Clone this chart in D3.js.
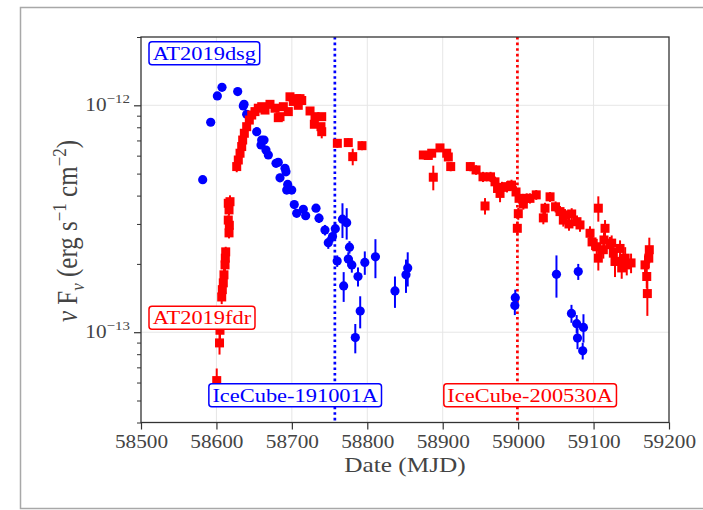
<!DOCTYPE html>
<html>
<head>
<meta charset="utf-8">
<script src="https://cdn.jsdelivr.net/npm/d3@7/dist/d3.min.js"></script>
<style>
  body { margin: 0; background: #fff; }
  svg { display: block; }
  text { font-family: "Liberation Serif", "DejaVu Serif", serif; }
</style>
</head>
<body>
<script>
// ---- data (flux in units of 1e-13 erg s^-1 cm^-2) ----
var sourceNames = ["AT2019dsg", "AT2019fdr"];
var eventNames = ["IceCube-191001A", "IceCube-200530A"];
var eventMjd = [58757, 58999];

var dsgMjd = [58581.8, 58592.4, 58601.2, 58607.4, 58628.2, 58635.6, 58636.6, 58640.1, 58653.4, 58660.0,
    58663.1, 58659.1, 58665.7, 58668.8, 58679.0, 58682.0, 58690.9, 58692.2, 58684.3, 58694.5,
    58693.2, 58699.8, 58703.2, 58706.4, 58715.2, 58718.3, 58732.0, 58736.0, 58743.9, 58748.3,
    58753.9, 58757.6, 58760.1, 58767.1, 58772.7, 58768.7, 58776.4, 58774.8, 58779.5, 58787.7,
    58790.6, 58784.1, 58796.7, 58810.8, 58836.7, 58851.3, 58853.6, 58996.2, 58995.6, 59050.8,
    59079.7, 59070.7, 59077.6, 59078.7, 59086.6, 59085.6];
var dsgFlux = [4.70, 8.42, 11.0, 12.0, 11.5, 9.93, 10.1, 9.13, 7.65, 7.03,
    7.03, 6.69, 6.35, 6.04, 5.55, 5.61, 5.28, 5.09, 4.79, 4.48,
    4.23, 4.23, 3.65, 3.34, 3.48, 3.26, 3.52, 3.18, 2.82, 2.48,
    2.64, 2.86, 2.06, 3.15, 3.04, 1.60, 2.37, 2.10, 1.98, 1.76,
    1.24, 0.947, 2.03, 2.15, 1.52, 1.79, 1.92, 1.42, 1.31, 1.80,
    1.85, 1.21, 1.09, 0.942, 1.05, 0.828];
var dsgErr = [0.15, 0.25, 0.3, 0.3, 0.3, 0.3, 0.3, 0.3, 0.25, 0.25,
    0.25, 0.2, 0.2, 0.2, 0.2, 0.2, 0.2, 0.2, 0.2, 0.2,
    0.15, 0.15, 0.12, 0.12, 0.12, 0.12, 0.12, 0.15, 0.15, 0.15,
    0.15, 0.2, 0.12, 0.55, 0.48, 0.24, 0.15, 0.15, 0.15, 0.17,
    0.2, 0.14, 0.24, 0.42, 0.24, 0.3, 0.33, 0.12, 0.12, 0.38,
    0.15, 0.11, 0.1, 0.1, 0.15, 0.07];

var fdrMjd = [58600.4, 58604.1, 58604.7, 58607.0, 58607.8, 58609.1, 58610.0, 58611.4, 58611.8, 58612.3,
    58616.7, 58617.1, 58615.7, 58616.7, 58615.7, 58618.0, 58626.9, 58629.0, 58631.3, 58633.5,
    58634.8, 58637.0, 58640.1, 58643.6, 58646.8, 58651.1, 58655.5, 58660.0, 58664.4, 58671.0,
    58677.7, 58682.0, 58684.3, 58688.7, 58695.3, 58697.5, 58701.9, 58706.4, 58710.8, 58708.5,
    58713.1, 58724.1, 58729.8, 58730.7, 58739.6, 58738.6, 58739.6, 58760.3, 58774.8, 58780.7,
    58793.0,
    58874.3, 58880.9, 58885.4, 58887.5, 58896.4, 58905.3, 58907.4, 58910.6, 58936.6, 58944.2,
    58953.4, 58956.1, 58963.4, 58969.3, 58972.7, 58976.0, 58978.6, 58985.2, 58991.2, 58997.2,
    59001.2, 59006.9, 59000.2, 58998.9, 59011.4, 59015.7, 59024.0, 59035.6, 59033.4, 59042.3,
    59049.6, 59055.5, 59059.9, 59062.1, 59071.0, 59067.4, 59078.0, 59082.0, 59095.3, 59098.0,
    59106.3, 59104.2, 59106.3, 59112.9, 59115.2, 59113.8, 59121.8, 59126.2, 59135.1, 59124.0,
    59128.4, 59139.4, 59144.0, 59137.3, 59141.9, 59149.7, 59168.2, 59173.9, 59170.5, 59171.3,
    59173.2];
var fdrFlux = [0.612, 0.897, 1.02, 1.43, 1.54, 1.65, 1.79, 1.98, 2.12, 2.26,
    2.74, 2.96, 3.12, 3.46, 3.70, 3.76, 5.37, 5.74, 6.15, 6.58,
    7.03, 7.53, 8.05, 8.61, 9.06, 9.38, 9.71, 9.86, 9.53, 10.1,
    9.71, 8.82, 8.91, 9.86, 9.38, 10.9, 10.4, 10.7, 10.7, 10.0,
    10.5, 9.44, 8.25, 8.91, 8.91, 8.05, 7.65, 6.80, 6.85, 5.94,
    6.64,
    6.04, 6.01, 6.15, 4.82, 6.49, 6.15, 5.92, 5.37, 5.37, 5.19,
    4.84, 3.60, 4.84, 4.60, 4.30, 4.09, 4.35, 4.38, 4.45, 4.15,
    3.89, 3.67, 3.33, 2.87, 3.89, 3.89, 4.03, 3.52, 3.19, 3.95,
    3.57, 3.40, 3.12, 3.29, 3.32, 3.00, 3.07, 2.97, 2.73, 2.50,
    3.52, 2.38, 2.12, 2.31, 2.87, 2.55, 2.43, 2.23, 2.34, 2.47,
    2.05, 2.08, 1.98, 1.92, 2.12, 2.02, 1.98, 2.31, 1.76, 1.48,
    2.12];
var fdrErr = [0.08, 0.1, 0.1, 0.1, 0.1, 0.1, 0.12, 0.12, 0.12, 0.12,
    0.15, 0.15, 0.15, 0.2, 0.2, 0.25, 0.3, 0.3, 0.3, 0.3,
    0.3, 0.3, 0.3, 0.3, 0.3, 0.3, 0.3, 0.3, 0.3, 0.3,
    0.3, 0.3, 0.3, 0.3, 0.3, 0.3, 0.3, 0.3, 0.3, 0.3,
    0.3, 0.3, 0.3, 0.3, 0.3, 0.3, 0.5, 0.3, 0.3, 0.5,
    0.3,
    0.25, 0.25, 0.25, 0.6, 0.25, 0.25, 0.25, 0.25, 0.25, 0.25,
    0.25, 0.3, 0.25, 0.25, 0.25, 0.35, 0.25, 0.25, 0.25, 0.25,
    0.2, 0.2, 0.2, 0.2, 0.2, 0.2, 0.2, 0.2, 0.2, 0.2,
    0.2, 0.2, 0.2, 0.2, 0.2, 0.2, 0.2, 0.2, 0.2, 0.2,
    0.45, 0.2, 0.25, 0.2, 0.25, 0.2, 0.2, 0.2, 0.2, 0.2,
    0.3, 0.2, 0.2, 0.2, 0.25, 0.2, 0.2, 0.3, 0.2, 0.3,
    0.2];

var xTicks = [58500, 58600, 58700, 58800, 58900, 59000, 59100, 59200];
var yMajor = [1e-13, 1e-12];
var yMinor = [4e-14, 5e-14, 6e-14, 7e-14, 8e-14, 9e-14,
    2e-13, 3e-13, 4e-13, 5e-13, 6e-13, 7e-13, 8e-13, 9e-13, 2e-12];
var unit = 1e-13;

// ---- layout ----
var W = 703, H = 510;
var plot = { left: 141, right: 669, top: 37, bottom: 422.5 };
var SX = 1.15; // the original picture is a bit wider than tall
var blue = "#0000ff", red = "#ff0000";

var x = d3.scaleLinear().domain([58500, 59200]).range([plot.left, plot.right]);
var y = d3.scaleLog().domain([4e-14, 2e-12]).range([plot.bottom, plot.top]);

var svg = d3.select("body").append("svg")
    .attr("width", W)
    .attr("height", H);

// grijze rand rond de figuur
svg.append("rect")
    .attr("x", 20.5).attr("y", 7.5)
    .attr("width", 700).attr("height", 501)
    .attr("fill", "none")
    .attr("stroke", "#a8a8a8")
    .attr("stroke-width", 1.5);

// grid
var grid = svg.append("g");
grid.selectAll(".gx").data(xTicks.slice(1, -1)).enter().append("line")
    .attr("x1", d => x(d)).attr("x2", d => x(d))
    .attr("y1", plot.top).attr("y2", plot.bottom)
    .attr("stroke", "#e6e6e6").attr("stroke-width", 1);
grid.selectAll(".gy").data(yMajor).enter().append("line")
    .attr("x1", plot.left).attr("x2", plot.right)
    .attr("y1", d => y(d)).attr("y2", d => y(d))
    .attr("stroke", "#e6e6e6").attr("stroke-width", 1);

// neutrino lines
var eventColor = [blue, red];
svg.selectAll(".event").data(eventMjd).enter().append("line")
    .attr("x1", d => x(d)).attr("x2", d => x(d))
    .attr("y1", plot.top).attr("y2", plot.bottom)
    .attr("stroke", (d, i) => eventColor[i])
    .attr("stroke-width", 2.7)
    .attr("stroke-dasharray", "2.6,3");

// AT2019dsg: circles
var dsg = dsgMjd.map((m, i) => ({ m: m, f: dsgFlux[i] * unit, e: dsgErr[i] * unit }));
var gd = svg.append("g");
gd.selectAll("line").data(dsg).enter().append("line")
    .attr("x1", d => x(d.m)).attr("x2", d => x(d.m))
    .attr("y1", d => y(d.f - d.e)).attr("y2", d => y(d.f + d.e))
    .attr("stroke", blue).attr("stroke-width", 2);
gd.selectAll("circle").data(dsg).enter().append("circle")
    .attr("cx", d => x(d.m)).attr("cy", d => y(d.f))
    .attr("r", 4.6)
    .attr("fill", blue);

// AT2019fdr: squares
var fdr = fdrMjd.map((m, i) => ({ m: m, f: fdrFlux[i] * unit, e: fdrErr[i] * unit }));
var gf = svg.append("g");
gf.selectAll("line").data(fdr).enter().append("line")
    .attr("x1", d => x(d.m)).attr("x2", d => x(d.m))
    .attr("y1", d => y(d.f - d.e)).attr("y2", d => y(d.f + d.e))
    .attr("stroke", red).attr("stroke-width", 2);
gf.selectAll("rect").data(fdr).enter().append("rect")
    .attr("x", d => x(d.m) - 4.5).attr("y", d => y(d.f) - 4.5)
    .attr("width", 9).attr("height", 9)
    .attr("fill", red);

// labels met een kader
function boxLabel(txt, color, cx, cy, anchorLeft) {
    var g = svg.append("g");
    var fs = 19.5;
    var t = g.append("text")
        .attr("font-size", fs)
        .attr("fill", color)
        .attr("text-anchor", "middle")
        .text(txt);
    var w = t.node().getBBox().width * SX + 7;
    var h = 23;
    if (anchorLeft) cx = cx + w / 2;
    t.attr("transform", "translate(" + cx + "," + (cy + fs * 0.33) + ") scale(" + SX + ",1)");
    g.insert("rect", "text")
        .attr("x", cx - w / 2).attr("y", cy - h / 2)
        .attr("width", w).attr("height", h)
        .attr("rx", 3)
        .attr("fill", "#fff")
        .attr("stroke", color)
        .attr("stroke-width", 1.5);
}
var pw = plot.right - plot.left, ph = plot.bottom - plot.top;
boxLabel(sourceNames[0], blue, plot.left + 8, plot.bottom - 0.958 * ph, true);
boxLabel(sourceNames[1], red, plot.left + 8, plot.bottom - 0.272 * ph, true);
boxLabel(eventNames[0], blue, plot.left + 0.292 * pw, plot.bottom - 0.071 * ph, false);
boxLabel(eventNames[1], red, plot.left + 0.737 * pw, plot.bottom - 0.071 * ph, false);

// spines
svg.append("rect")
    .attr("x", plot.left).attr("y", plot.top)
    .attr("width", pw).attr("height", ph)
    .attr("fill", "none")
    .attr("stroke", "#333")
    .attr("stroke-width", 1.3);

// x axis
var gx = svg.append("g")
    .attr("transform", "translate(0," + plot.bottom + ")")
    .call(d3.axisBottom(x).tickValues(xTicks).tickSize(7).tickPadding(5).tickFormat(d3.format("d")));
gx.select(".domain").remove();
gx.selectAll("line").attr("stroke", "#333").attr("stroke-width", 1.2);
gx.selectAll("text")
    .attr("font-size", 18.5)
    .attr("fill", "#444")
    .attr("transform", "scale(" + SX + ",1)");

// y axis, minor and major
var gyMinor = svg.append("g")
    .attr("transform", "translate(" + plot.left + ",0)")
    .call(d3.axisLeft(y).tickValues(yMinor).tickSize(4).tickFormat(""));
gyMinor.select(".domain").remove();
gyMinor.selectAll("line").attr("stroke", "#333").attr("stroke-width", 1);

var gyMajor = svg.append("g")
    .attr("transform", "translate(" + plot.left + ",0)")
    .call(d3.axisLeft(y).tickValues(yMajor).tickSize(7).tickFormat(""));
gyMajor.select(".domain").remove();
gyMajor.selectAll("line").attr("stroke", "#333").attr("stroke-width", 1.2);

yMajor.forEach(function (v) {
    var t = svg.append("text")
        .attr("transform", "translate(" + (plot.left - 11) + "," + (y(v) + 6) + ") scale(" + SX + ",1)")
        .attr("text-anchor", "end")
        .attr("font-size", 18.5)
        .attr("fill", "#444");
    t.append("tspan").text("10");
    t.append("tspan").attr("font-size", 13).attr("dy", -8)
        .text("\u2212" + Math.abs(Math.round(Math.log10(v))));
});

// axis titles
svg.append("text")
    .attr("transform", "translate(" + (plot.left + pw / 2) + ",472) scale(" + SX + ",1)")
    .attr("text-anchor", "middle")
    .attr("font-size", 22)
    .attr("fill", "#444")
    .text("Date (MJD)");

var yl = svg.append("text")
    .attr("transform", "translate(77,231) rotate(-90) scale(1,1.15)")
    .attr("text-anchor", "middle")
    .attr("font-size", 25)
    .attr("fill", "#444");
yl.append("tspan").attr("font-style", "italic").text("\u03bd");
yl.append("tspan").text(" F");
yl.append("tspan").attr("font-style", "italic").attr("font-size", 17).attr("dy", 6).text("\u03bd");
yl.append("tspan").attr("dy", -6).text(" (erg s");
yl.append("tspan").attr("font-size", 17).attr("dy", -10).text("\u22121");
yl.append("tspan").attr("dy", 10).text(" cm");
yl.append("tspan").attr("font-size", 17).attr("dy", -10).text("\u22122");
yl.append("tspan").attr("dy", 10).text(")");
</script>
</body>
</html>
